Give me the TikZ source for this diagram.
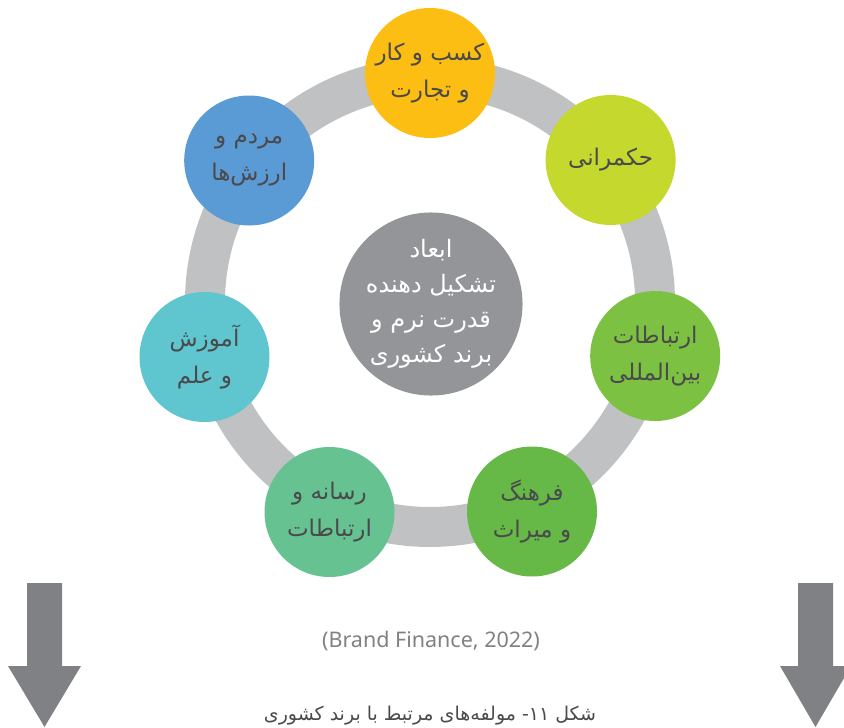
\documentclass[tikz,border=0pt]{standalone}
\usepackage{fontspec}
\setmainfont{DejaVu Sans}
\newfontfamily\fa[Script=Arabic]{DejaVu Sans}
\newfontfamily\lat{Noto Sans}
\TeXXeTstate=1
\definecolor{ringgray}{HTML}{C0C1C3}
\definecolor{midgray}{HTML}{939598}
\definecolor{arrowgray}{HTML}{808184}
\definecolor{txt}{HTML}{4A4A4C}
\definecolor{c1}{HTML}{FDBE14}
\definecolor{c2}{HTML}{C4D82E}
\definecolor{c3}{HTML}{7DC143}
\definecolor{c4}{HTML}{66B947}
\definecolor{c5}{HTML}{66C391}
\definecolor{c6}{HTML}{5FC6CF}
\definecolor{c7}{HTML}{5B9BD5}

\begin{document}
\begin{tikzpicture}[x=1pt, y=-1pt,
  part/.style={circle, minimum size=130pt, inner sep=0pt, align=center, text=txt,
    font=\fa\fontsize{23}{37}\selectfont},
  hub/.style={circle, fill=midgray, minimum size=182pt, inner sep=0pt, align=center, text=white,
    font=\fa\fontsize{24}{35}\selectfont}]
\useasboundingbox (0,0) rectangle (844,728);

\draw[line width=40pt, ringgray] (430,302) circle (225pt);

\node[hub] (0) at (431,304) {\beginR ابعاد\endR\\\beginR تشکیل دهنده\endR\\\beginR قدرت نرم و\endR\\\beginR برند کشوری\endR};

\node[part, fill=c1] (1) at (430,73) {\beginR کسب و کار\endR\\\beginR و تجارت\endR};
\node[part, fill=c2] (2) at (610.6,160) {\beginR حکمرانی\endR};
\node[part, fill=c3] (3) at (655.2,356) {\beginR ارتباطات\endR\\\beginR بین‌المللی\endR};
\node[part, fill=c4] (4) at (532,511.5) {\beginR فرهنگ\endR\\\beginR و میراث\endR};
\node[part, fill=c5] (5) at (329.5,512) {\beginR رسانه و\endR\\\beginR ارتباطات\endR};
\node[part, fill=c6] (6) at (204.5,357) {\beginR آموزش\endR\\\beginR و علم\endR};
\node[part, fill=c7] (7) at (249.2,160.5) {\beginR مردم و\endR\\\beginR ارزش‌ها\endR};

% arrows at the bottom corners
\fill[arrowgray] (27,583) -- (62,583) -- (62,666) -- (81,666) -- (44.5,727) -- (8,666) -- (27,666) -- cycle;
\fill[arrowgray] (798,583) -- (833,583) -- (833,666) -- (851,666) -- (815.5,727) -- (780,666) -- (798,666) -- cycle;

\node[text=arrowgray, font=\lat\fontsize{21.5}{24}\selectfont] (src) at (431,641) {(Brand Finance, 2022)};
\node[text=txt, font=\fa\fontsize{19}{22}\selectfont] (cap) at (430,716) {\beginR شکل ۱۱- مولفه‌های مرتبط با برند کشوری\endR};
\end{tikzpicture}
\end{document}
